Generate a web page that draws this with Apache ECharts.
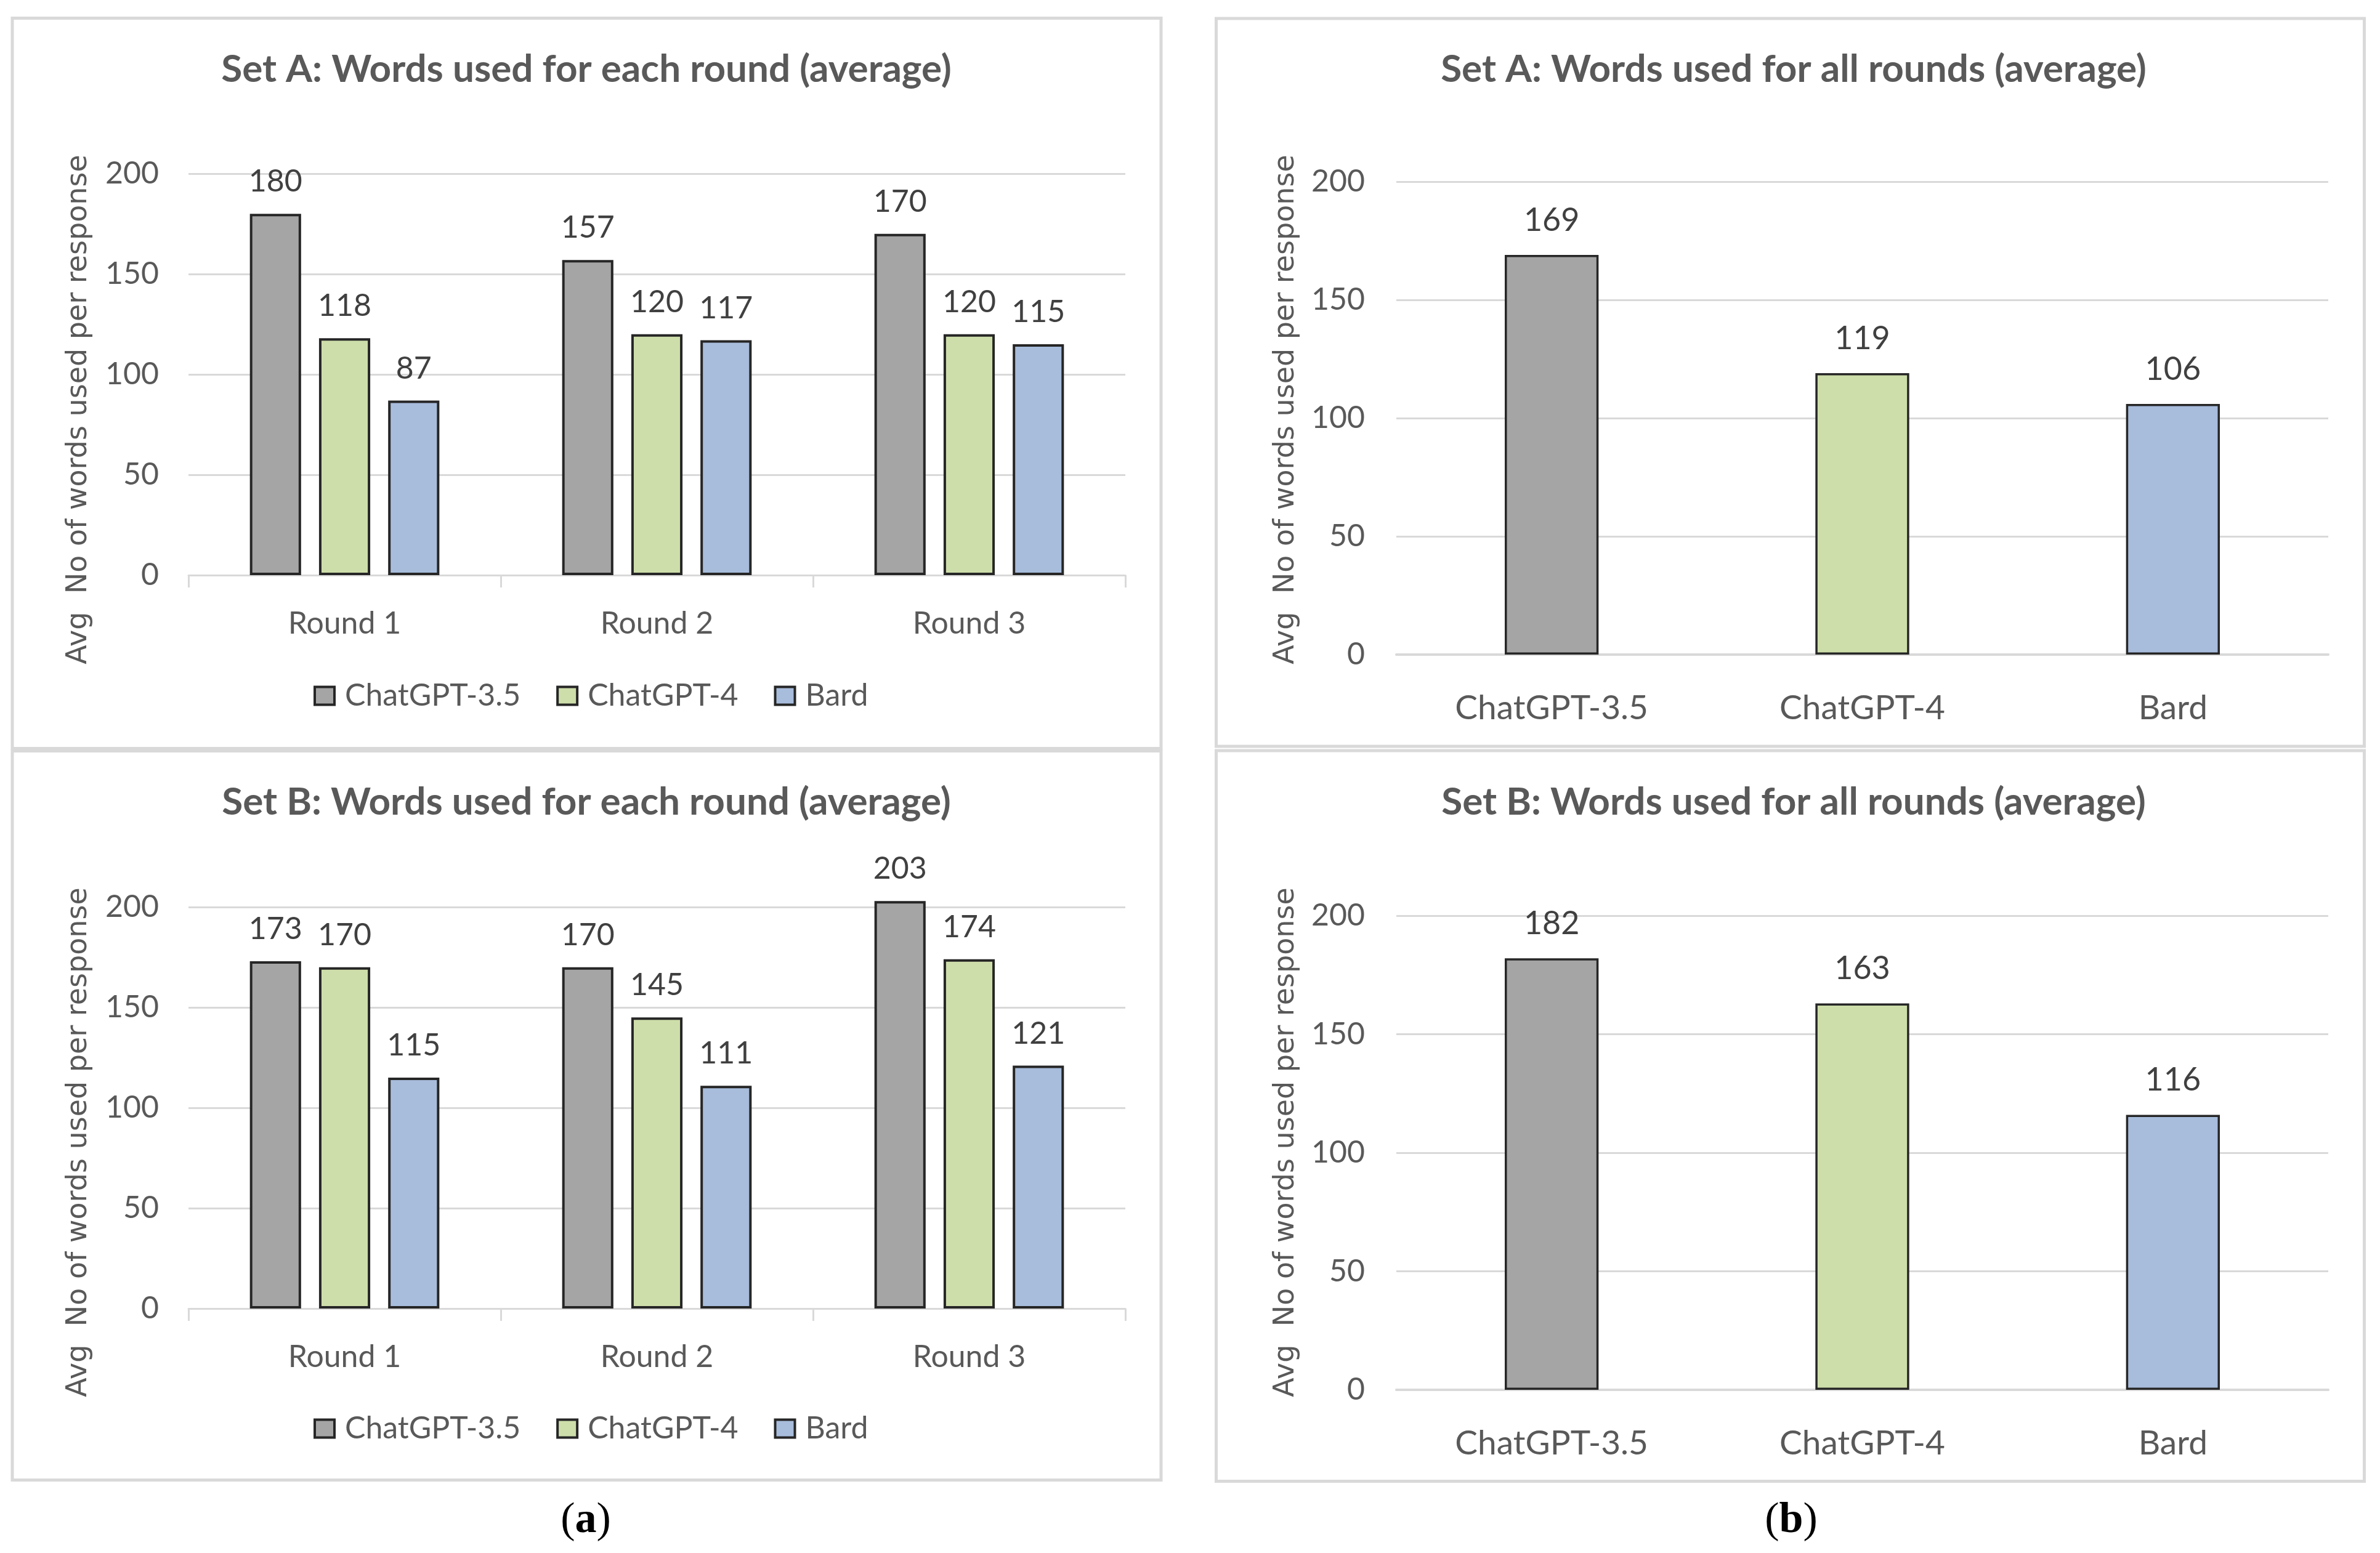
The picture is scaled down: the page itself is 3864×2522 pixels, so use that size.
<!DOCTYPE html>
<html><head><meta charset="utf-8">
<script src="https://cdn.jsdelivr.net/npm/echarts@6/dist/echarts.min.js"></script>
<style>html,body{margin:0;padding:0;background:#fff}#c{width:3864px;height:2522px}</style>
</head><body><div id="c"></div>
<script>
// ---------- data ----------
const rounds = ['Round 1', 'Round 2', 'Round 3'];
const models = ['ChatGPT-3.5', 'ChatGPT-4', 'Bard'];
const setA_gpt35 = [180, 157, 170];
const setA_gpt4  = [118, 120, 120];
const setA_bard  = [87, 117, 115];
const setB_gpt35 = [173, 170, 203];
const setB_gpt4  = [170, 145, 174];
const setB_bard  = [115, 111, 121];
const setA_all = [169, 119, 106];
const setB_all = [182, 163, 116];
const yMin = 0, yMax = 200, yStep = 50;
const chartTitles = [
  'Set A: Words used for each round (average)',
  'Set B: Words used for each round (average)',
  'Set A: Words used for all rounds (average)',
  'Set B: Words used for all rounds (average)'
];
const yTitle = 'Avg  No of words used per response';
const captions = ['a', 'b'];

// ---------- styles ----------
const modelColors = ['#a5a5a5', '#cedeaa', '#a8bddc'];
const txt = '#595959';
const grid = '#d9d9d9';
const FONT = 'Lato';

const grids = [
  {left: 306, top: 282, width: 1521, height: 652},
  {left: 306, top: 1473, width: 1521, height: 652},
  {left: 2267, top: 295, width: 1513, height: 768},
  {left: 2267, top: 1487, width: 1513, height: 770}
];

function xAx(i, left) {
  return {
    type: 'category', gridIndex: i, data: left ? rounds : models,
    axisLine: {show: true, lineStyle: {color: grid, width: left ? 3 : 4}},
    axisTick: {show: left, length: 20, lineStyle: {color: grid, width: 3}},
    axisLabel: {margin: left ? 54 : 60, fontSize: left ? 50 : 55, color: txt, fontFamily: FONT}
  };
}
function yAx(i, left) {
  return {
    type: 'value', gridIndex: i, min: yMin, max: yMax, interval: yStep,
    axisLine: {show: false}, axisTick: {show: false},
    splitLine: {lineStyle: {color: grid, width: 3}},
    axisLabel: {margin: left ? 48 : 51, fontSize: 50, color: txt, fontFamily: FONT}
  };
}
function roundSeries(g, arrs) {
  return arrs.map((d, k) => ({
    type: 'bar', name: models[k], xAxisIndex: g, yAxisIndex: g, data: d,
    barWidth: '16.4%', barGap: '35%', clip: false,
    itemStyle: {color: modelColors[k], borderColor: '#262626', borderWidth: 4},
    label: {show: true, position: 'top', distance: 27, fontSize: 50, color: '#404040', fontFamily: FONT}
  }));
}
function allSeries(g, name, d) {
  return {
    type: 'bar', name: name, xAxisIndex: g, yAxisIndex: g,
    data: d.map((v, k) => ({value: v, itemStyle: {color: modelColors[k]}})),
    barWidth: '30.2%', clip: false,
    itemStyle: {borderColor: '#262626', borderWidth: 3.5},
    label: {show: true, position: 'top', distance: 30, fontSize: 52, color: '#404040', fontFamily: FONT}
  };
}
function legend(top) {
  return {
    data: models, left: 509, top: top, padding: 0, orient: 'horizontal',
    itemWidth: 32, itemHeight: 29, itemGap: 58, icon: 'rect', selectedMode: false,
    itemStyle: {borderColor: '#262626', borderWidth: 4},
    textStyle: {fontSize: 50, color: txt, fontFamily: FONT, padding: [0, 0, 0, 12]}
  };
}
function title(text, cx, top) {
  return {
    text: text, left: cx, top: top, padding: 0, textAlign: 'center', textVerticalAlign: 'top',
    textStyle: {fontFamily: FONT, fontWeight: 'bold', fontSize: 62, color: txt}
  };
}
function panel(x, y, w, h) {
  return {type: 'rect', shape: {x: x, y: y, width: w, height: h},
    style: {fill: 'rgba(0,0,0,0)', stroke: grid, lineWidth: 5}, z: 0, silent: true};
}
function yTitleEl(x, y) {
  return {type: 'text', x: x, y: y, rotation: Math.PI / 2, silent: true,
    style: {text: yTitle, fontFamily: 'DejaVu Sans', fontSize: 46, fill: txt,
      align: 'center', verticalAlign: 'middle', textAlign: 'center', textVerticalAlign: 'middle'}};
}
function captionEl(letter, x, y) {
  return {type: 'text', x: x, y: y, silent: true,
    style: {text: '{p|(}{b|' + letter + '}{p|)}', align: 'center', verticalAlign: 'middle',
      textAlign: 'center', textVerticalAlign: 'middle',
      rich: {p: {fontFamily: 'Liberation Serif', fontSize: 70, fill: '#000', color: '#000'},
             b: {fontFamily: 'Liberation Serif', fontSize: 70, fontWeight: 'bold', fill: '#000', color: '#000'}}}};
}

const option = {
  backgroundColor: '#fff',
  animation: false,
  title: [
    title(chartTitles[0], 952, 82),
    title(chartTitles[1], 952, 1272),
    title(chartTitles[2], 2912, 82),
    title(chartTitles[3], 2912, 1272)
  ],
  legend: [legend(1105), legend(2295)],
  grid: grids,
  xAxis: [xAx(0, true), xAx(1, true), xAx(2, false), xAx(3, false)],
  yAxis: [yAx(0, true), yAx(1, true), yAx(2, false), yAx(3, false)],
  series: [
    ...roundSeries(0, [setA_gpt35, setA_gpt4, setA_bard]),
    ...roundSeries(1, [setB_gpt35, setB_gpt4, setB_bard]),
    allSeries(2, 'Set A: all rounds', setA_all),
    allSeries(3, 'Set B: all rounds', setB_all)
  ],
  graphic: [
    panel(20, 29.5, 1865, 1186),
    panel(20, 1219.5, 1865, 1184),
    panel(1974.5, 30, 1864, 1182),
    panel(1974.5, 1219, 1864, 1186.5),
    yTitleEl(128, 665), yTitleEl(128, 1855),
    yTitleEl(2088, 665), yTitleEl(2088, 1855),
    captionEl(captions[0], 951, 2470),
    captionEl(captions[1], 2908, 2470)
  ]
};
const chart = echarts.init(document.getElementById('c'), null, {renderer: 'canvas'});
chart.setOption(option);
</script></body></html>
